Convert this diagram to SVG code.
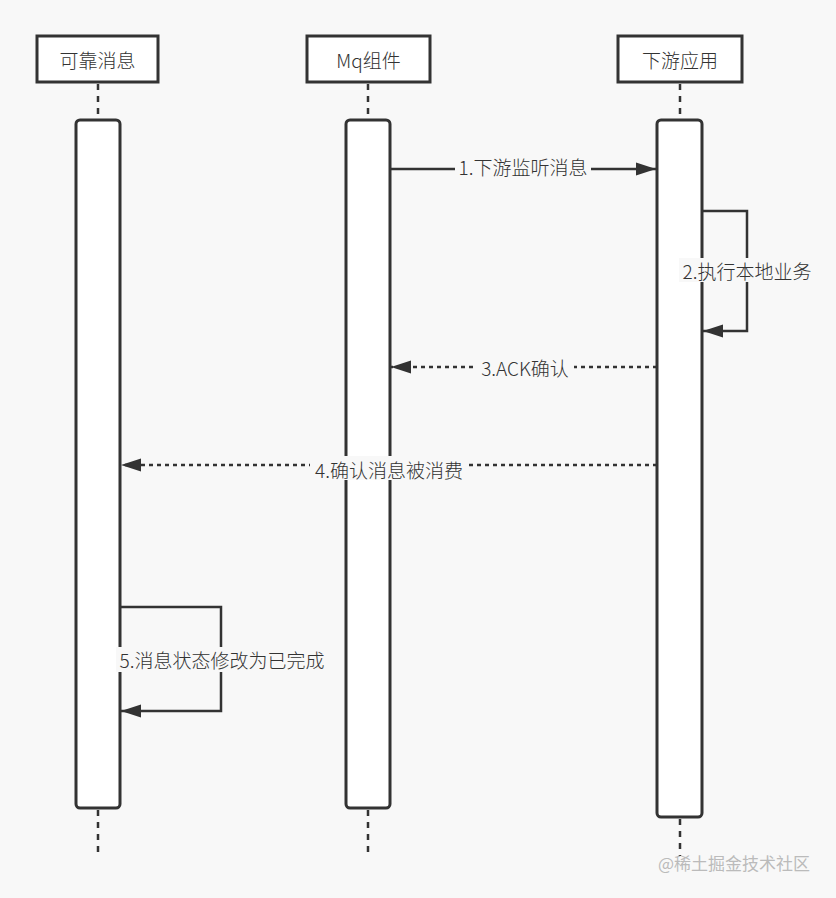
<svg xmlns="http://www.w3.org/2000/svg" width="836" height="898" viewBox="0 0 836 898">
<defs>
<style>
.hd{fill:#fff;stroke:#333;stroke-width:3}
.act{fill:#fff;stroke:#333;stroke-width:3}
.life{stroke:#333;stroke-width:2.5;stroke-dasharray:6 6;fill:none}
.msg{stroke:#333;stroke-width:2.5;fill:none}
.dash{stroke-dasharray:4 4}
.t{font-family:"Microsoft YaHei","Noto Sans CJK SC",sans-serif;font-size:19px;font-weight:300;fill:#333;text-anchor:middle;dominant-baseline:central}
.lbg{fill:#f8f8f8}
</style>
<marker id="ah" viewBox="0 0 10 10" refX="10" refY="5" markerWidth="8" markerHeight="8" orient="auto" markerUnits="strokeWidth">
<path d="M0,1.8 L10,5 L0,8.2 Z" fill="#333"/>
</marker>
</defs>
<rect width="836" height="898" fill="#f8f8f8"/>
<g id="lifelines">
<line class="life" x1="98" y1="84" x2="98" y2="120"/>
<line class="life" x1="98" y1="810" x2="98" y2="856"/>
<line class="life" x1="368" y1="84" x2="368" y2="120"/>
<line class="life" x1="368" y1="810" x2="368" y2="856"/>
<line class="life" x1="680" y1="84" x2="680" y2="120"/>
<line class="life" x1="680" y1="819" x2="680" y2="856"/>
</g>
<g id="node-kekao">
<rect class="hd" x="37" y="36" width="121" height="46"/>
<text class="t" x="97.5" y="59">可靠消息</text>
<rect class="act" x="76" y="120" width="44" height="688" rx="4"/>
</g>
<g id="node-mq">
<rect class="hd" x="307" y="36" width="123" height="46"/>
<text class="t" x="368.5" y="59">Mq组件</text>
<rect class="act" x="346" y="120" width="44" height="688" rx="4"/>
</g>
<g id="node-xiayou">
<rect class="hd" x="618" y="36" width="124" height="46"/>
<text class="t" x="680" y="59">下游应用</text>
<rect class="act" x="657" y="120" width="45" height="697" rx="4"/>
</g>
<g id="connectors">
<line class="msg" x1="390" y1="169" x2="656" y2="169" marker-end="url(#ah)"/>
<rect class="lbg" x="455" y="156" width="136" height="24"/>
<text class="t" x="523" y="166">1.下游监听消息</text>
<polyline class="msg" points="702,211 747,211 747,331 703,331" marker-end="url(#ah)"/>
<rect class="lbg" x="679" y="258" width="137" height="24"/>
<text class="t" x="747" y="270">2.执行本地业务</text>
<line class="msg dash" x1="657" y1="367" x2="391" y2="367" marker-end="url(#ah)"/>
<rect class="lbg" x="476" y="355" width="98" height="24"/>
<text class="t" x="525" y="367">3.ACK确认</text>
<line class="msg dash" x1="657" y1="465" x2="121" y2="465" marker-end="url(#ah)"/>
<rect class="lbg" x="310" y="456" width="158" height="24"/>
<text class="t" x="389" y="469">4.确认消息被消费</text>
<polyline class="msg" points="120,607 221,607 221,711 121,711" marker-end="url(#ah)"/>
<rect class="lbg" x="116" y="647" width="214" height="25"/>
<text class="t" x="222" y="659">5.消息状态修改为已完成</text>
</g>
<text x="810" y="862" font-family="'Noto Sans CJK SC',sans-serif" font-size="17" fill="#bbb" text-anchor="end" dominant-baseline="central">@稀土掘金技术社区</text>
</svg>
